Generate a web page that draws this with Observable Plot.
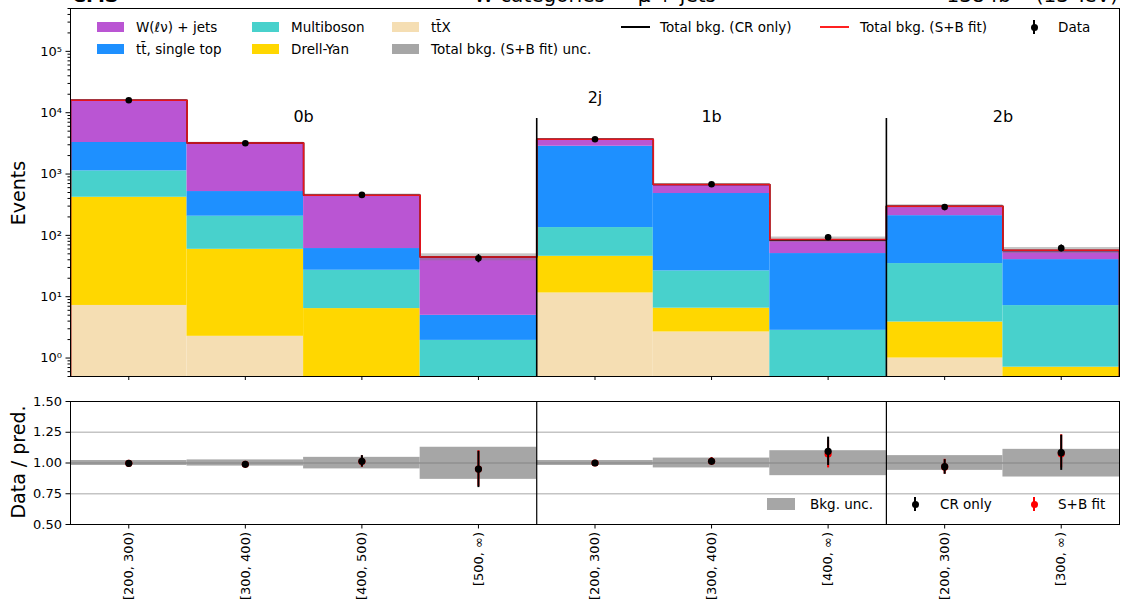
<!DOCTYPE html>
<html><head><meta charset="utf-8">
<script src="https://cdn.jsdelivr.net/npm/d3@7"></script>
<script src="https://cdn.jsdelivr.net/npm/@observablehq/plot@0.6"></script>
<style>
body{margin:0;background:#fff;font-family:"DejaVu Sans",sans-serif;color:#000;}
#wrap{position:relative;width:1129px;height:607px;overflow:hidden;background:#fff;}
#wrap svg{position:absolute;left:0;}
.abs{position:absolute;white-space:nowrap;line-height:1;}
</style></head><body><div id="wrap"></div>
<script>
// ---------------- data ----------------
const binLabels = ["[200, 300)","[300, 400)","[400, 500)","[500, ∞)","[200, 300)","[300, 400)","[400, ∞)","[200, 300)","[300, ∞)"];
const categories = ["0b","1b","2b"];
const catStart = [0,4,7];
const catEnd = [4,7,9];
const jetLabel = "2j";
const jetBin = 4;

// stacked backgrounds (bottom to top), events per bin
const ttX       = [7.2, 2.26, 0.3, 0.1, 11.5, 2.66, 0.2, 1.0, 0.3];
const drellYan  = [411, 57, 6.1, 0.3, 34.1, 3.84, 0.25, 2.87, 0.41];
const multiboson= [706, 146, 20.6, 1.54, 88.4, 19.8, 2.38, 30.8, 6.45];
const ttSingleTop=[2142, 313, 34, 3.03, 2706, 455, 47.7, 175, 33.1];
const wJets     = [12734, 2696, 390, 39.4, 860, 193, 34.9, 88, 16.8];

const totalCR   = [16000, 3214, 451, 44.4, 3700, 674, 83.8, 298, 56.7];
const dataObs   = [15950, 3180, 457, 42.2, 3700, 683, 93.1, 289, 61.9];
const dataErr   = [126, 56, 21, 6.5, 61, 26, 9.6, 17, 7.9];

// ratio panel
const uncLo = [0.98, 0.975, 0.952, 0.867, 0.98, 0.96, 0.897, 0.94, 0.886];
const uncHi = [1.02, 1.025, 1.046, 1.128, 1.02, 1.04, 1.10, 1.06, 1.111];
const ratioCR   = [0.997, 0.989, 1.014, 0.951, 1.0, 1.014, 1.095, 0.97, 1.084];
const ratioCRlo = [0.99, 0.98, 0.967, 0.80, 0.99, 0.99, 0.98, 0.908, 0.94];
const ratioCRhi = [1.004, 0.998, 1.06, 1.095, 1.01, 1.04, 1.21, 1.027, 1.226];
const ratioSB   = [0.997, 0.989, 1.012, 0.951, 1.0, 1.014, 1.073, 0.968, 1.076];
const ratioSBlo = [0.99, 0.98, 0.965, 0.81, 0.99, 0.99, 0.96, 0.91, 0.96];
const ratioSBhi = [1.004, 0.998, 1.058, 1.10, 1.01, 1.045, 1.185, 1.03, 1.23];

const colors = {w:"#BA55D3", tt:"#1E90FF", mb:"#48D1CC", dy:"#FFD700", ttx:"#F5DEB3", band:"#a6a6a6"};

// ---------------- build tables ----------------
const nb = binLabels.length;
const procs = [
  {vals: ttX, color: colors.ttx},
  {vals: drellYan, color: colors.dy},
  {vals: multiboson, color: colors.mb},
  {vals: ttSingleTop, color: colors.tt},
  {vals: wJets, color: colors.w}
];
const floor = 1e-3;
const stacks = procs.map(() => []);
const totalSB = [];
for (let i = 0; i < nb; i++) {
  let cum = 0;
  procs.forEach((p, k) => {
    stacks[k].push({x1: i, x2: i + 1, y1: cum === 0 ? floor : cum, y2: cum + p.vals[i]});
    cum += p.vals[i];
  });
  totalSB.push(cum);
}
function stepPts(tot) {
  const pts = [{x: 0, y: floor}];
  tot.forEach((t, i) => { pts.push({x: i, y: t}); pts.push({x: i + 1, y: t}); });
  pts.push({x: nb, y: floor});
  return pts;
}
const bins = d3.range(nb).map(i => ({
  i, c: i + 0.5, x1: i, x2: i + 1,
  tot: totalSB[i], bLo: totalSB[i] * uncLo[i], bHi: totalSB[i] * uncHi[i],
  d: dataObs[i], dLo: dataObs[i] - dataErr[i], dHi: dataObs[i] + dataErr[i],
  lo: uncLo[i], hi: uncHi[i],
  cr: ratioCR[i], crLo: ratioCRlo[i], crHi: ratioCRhi[i],
  sb: ratioSB[i], sbLo: ratioSBlo[i], sbHi: ratioSBhi[i]
}));
const cats = categories.map((c, k) => ({label: c, x: (catStart[k] + catEnd[k]) / 2}));

const sup = {"-":"⁻","0":"⁰","1":"¹","2":"²","3":"³","4":"⁴","5":"⁵","6":"⁶","7":"⁷","8":"⁸","9":"⁹"};
const majorTicks = d3.range(0, 6).map(e => Math.pow(10, e));
const minorTicks = [];
for (let e = -1; e <= 5; e++) for (let m = 2; m <= 9; m++) {
  const v = m * Math.pow(10, e);
  if (v >= 0.5 && v <= 5e5) minorTicks.push(v);
}
const centers = bins.map(b => b.c);

const style = {fontFamily: "DejaVu Sans", fontSize: "13px", color: "#000", background: "transparent", overflow: "visible"};

// ---------------- upper panel ----------------
const upper = Plot.plot({
  width: 1129, height: 380,
  marginLeft: 70, marginRight: 10, marginTop: 8, marginBottom: 4,
  style,
  x: {domain: [0, nb], axis: null},
  y: {type: "log", domain: [0.5, 5e5], axis: null},
  marks: [
    ...stacks.map((rows, k) => Plot.rect(rows, {x1: "x1", x2: "x2", y1: "y1", y2: "y2", fill: procs[k].color, clip: true})),
    Plot.rect(bins, {x1: "x1", x2: "x2", y1: "bLo", y2: "bHi", fill: "#808080", fillOpacity: 0.45}),
    Plot.line(stepPts(totalCR), {x: "x", y: "y", stroke: "#000", strokeWidth: 1.5, clip: true}),
    Plot.line(stepPts(totalSB), {x: "x", y: "y", stroke: "#e8141c", strokeWidth: 1.6, clip: true}),
    Plot.ruleX([catStart[1], catStart[2]], {stroke: "#000", strokeWidth: 1.6, insetTop: 110}),
    Plot.ruleX(bins, {x: "c", y1: "dLo", y2: "dHi", stroke: "#000", strokeWidth: 1.6}),
    Plot.dot(bins, {x: "c", y: "d", r: 3.3, fill: "#000"}),
    Plot.text(cats, {x: "x", text: "label", frameAnchor: "top", dy: 102, fontSize: 16}),
    Plot.text([jetLabel], {x: () => jetBin + 0.5, text: d => d, frameAnchor: "top", dy: 83, fontSize: 16}),
    Plot.axisY({ticks: minorTicks, tickSize: 2.5, tickFormat: () => "", label: null}),
    Plot.axisY({ticks: majorTicks, tickSize: 4.5, tickPadding: 4, label: null,
      tickFormat: d => "10" + String(Math.round(Math.log10(d))).split("").map(c => sup[c]).join("")}),
    Plot.axisX({ticks: centers, tickSize: 4, tickFormat: () => "", label: null}),
    Plot.frame({stroke: "#000", strokeWidth: 1})
  ]
});

// ---------------- ratio panel ----------------
const lower = Plot.plot({
  width: 1129, height: 227,
  marginLeft: 70, marginRight: 10, marginTop: 21, marginBottom: 83,
  style,
  x: {domain: [0, nb], axis: null},
  y: {domain: [0.5, 1.5], axis: null},
  marks: [
    Plot.ruleY([0.75, 1.25], {stroke: "#c4c4c4", strokeWidth: 1.5}),
    Plot.rect(bins, {x1: "x1", x2: "x2", y1: "lo", y2: "hi", fill: colors.band}),
    Plot.ruleY([1], {stroke: "#8f8f8f", strokeWidth: 1.5}),
    Plot.ruleX(bins, {x: "c", y1: "sbLo", y2: "sbHi", stroke: "#ff0000", strokeWidth: 2}),
    Plot.dot(bins, {x: "c", y: "sb", r: 3.6, fill: "#ff0000"}),
    Plot.ruleX(bins, {x: "c", y1: "crLo", y2: "crHi", stroke: "#000", strokeWidth: 2}),
    Plot.dot(bins, {x: "c", y: "cr", r: 3.6, fill: "#000"}),
    Plot.ruleX([catStart[1], catStart[2]], {stroke: "#000", strokeWidth: 1.2}),
    Plot.axisY({ticks: [0.5, 0.75, 1, 1.25, 1.5], tickFormat: d3.format(".2f"), tickSize: 4.5, tickPadding: 4, label: null}),
    Plot.axisX({ticks: centers, tickSize: 4.5, tickPadding: 3, tickRotate: -90, label: null,
      tickFormat: d => binLabels[Math.floor(d)]}),
    Plot.frame({stroke: "#000", strokeWidth: 1})
  ]
});

const wrap = document.getElementById("wrap");
upper.style.top = "0px";
lower.style.top = "380px";
wrap.appendChild(upper);
wrap.appendChild(lower);

// ---------------- text & legends ----------------
function addText(txt, x, y, opts = {}) {
  const d = document.createElement("div");
  d.className = "abs";
  d.textContent = txt;
  d.style.left = x + "px";
  d.style.top = y + "px";
  d.style.fontSize = (opts.size || 13.5) + "px";
  let tf = "translateY(-50%)";
  if (opts.anchor === "end") tf = "translate(-100%,-50%)";
  if (opts.anchor === "middle") tf = "translate(-50%,-50%)";
  if (opts.rotate) tf = "translate(-50%,-50%) rotate(-90deg)";
  d.style.transform = tf;
  if (opts.bold) d.style.fontWeight = "bold";
  wrap.appendChild(d);
  return d;
}
function addBox(x, y, w, h, color, extra = {}) {
  const d = document.createElement("div");
  d.className = "abs";
  Object.assign(d.style, {left: x + "px", top: y + "px", width: w + "px", height: h + "px", background: color}, extra);
  wrap.appendChild(d);
}
function addMarker(x, y, color) {
  addBox(x - 1, y - 7, 2, 14, color);
  addBox(x - 3.5, y - 3.5, 7, 7, color, {borderRadius: "50%"});
}

// titles (clipped by top of canvas as in the reference)
addText("CMS", 72, -5, {size: 19, bold: true});
addText("W categories — μ + jets", 595, -5, {size: 20, anchor: "middle"});
addText("138 fb⁻¹ (13 TeV)", 1118, -5, {size: 20, anchor: "end"});

// axis titles
addText("Events", 18, 193, {size: 19, rotate: true});
addText("Data / pred.", 18, 462, {size: 19, rotate: true});

// upper legend
const legRows = [28, 50];
const patchItems = [
  {label: "W(ℓν) + jets", color: colors.w, col: 0, row: 0},
  {label: "tt̄, single top", color: colors.tt, col: 0, row: 1},
  {label: "Multiboson", color: colors.mb, col: 1, row: 0},
  {label: "Drell-Yan", color: colors.dy, col: 1, row: 1},
  {label: "tt̄X", color: colors.ttx, col: 2, row: 0},
  {label: "Total bkg. (S+B fit) unc.", color: "#a6a6a6", col: 2, row: 1}
];
const colX = [97, 252, 392];
patchItems.forEach(it => {
  const y = legRows[it.row];
  addBox(colX[it.col], y - 6, 27, 10, it.color);
  addText(it.label, colX[it.col] + 39, y, {size: 13.5});
});
addBox(621, 26, 29, 1.6, "#000");
addText("Total bkg. (CR only)", 660, 28, {size: 13.5});
addBox(820, 26, 29, 1.6, "#ff2020");
addText("Total bkg. (S+B fit)", 860, 28, {size: 13.5});
addMarker(1034, 27, "#000");
addText("Data", 1058, 28, {size: 13.5});

// ratio legend
addBox(767, 498, 28, 12, colors.band);
addText("Bkg. unc.", 810, 505, {size: 13.5});
addMarker(915, 504, "#000");
addText("CR only", 940, 505, {size: 13.5});
addMarker(1034, 504, "#ff0000");
addText("S+B fit", 1058, 505, {size: 13.5});
</script></body></html>
